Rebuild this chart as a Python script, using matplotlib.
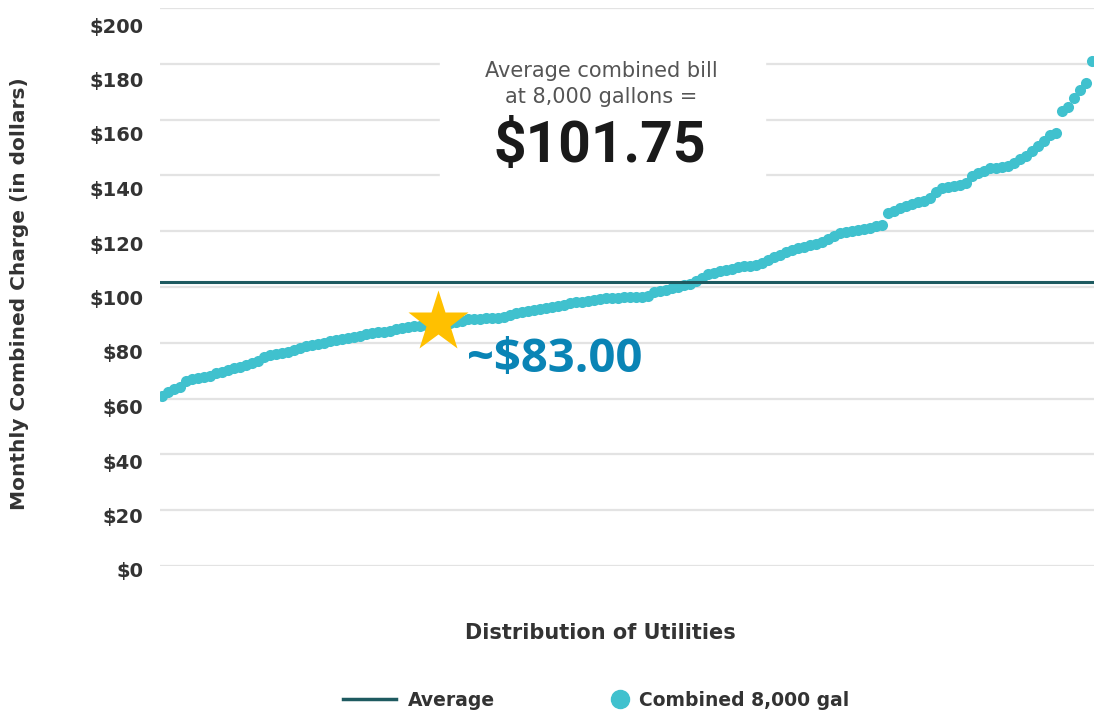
#distribution of combined monthly bills at 8,000 gallons
import matplotlib.pyplot as plt
from matplotlib.lines import Line2D
from matplotlib.patches import Rectangle
from matplotlib.transforms import ScaledTranslation

# combined charge per utility, sorted low to high
charges = [
    61.0, 62.3, 63.3, 64.2, 66.4, 67.2, 67.5, 67.7, 68.2, 69.0,
    69.5, 70.2, 70.8, 71.5, 72.0, 72.6, 73.4, 74.8, 75.5, 75.9,
    76.3, 76.8, 77.4, 78.1, 78.7, 79.3, 79.7, 80.1, 80.5, 80.9,
    81.3, 81.7, 82.2, 82.6, 83.1, 83.4, 83.7, 84.0, 84.4, 84.8,
    85.3, 85.7, 85.9, 86.1, 86.3, 86.6, 86.8, 87.0, 87.1, 87.3,
    87.9, 88.4, 88.6, 88.7, 88.8, 88.8, 88.9, 89.3, 90.0, 90.6,
    91.1, 91.4, 91.8, 92.1, 92.4, 92.8, 93.1, 93.6, 94.1, 94.5,
    94.8, 95.1, 95.4, 95.7, 95.9, 96.0, 96.2, 96.3, 96.4, 96.5,
    96.5, 96.8, 98.2, 98.7, 99.1, 99.5, 100.0, 100.6, 101.2, 102.0,
    103.2, 104.5, 105.1, 105.7, 106.1, 106.6, 107.0, 107.4, 107.7, 108.0,
    108.5, 109.5, 110.6, 111.6, 112.4, 113.2, 113.8, 114.4, 115.0, 115.5,
    116.2, 117.2, 118.3, 119.3, 119.7, 120.0, 120.3, 120.7, 121.2, 121.8,
    122.4, 126.4, 127.3, 128.3, 129.2, 129.8, 130.4, 131.0, 132.0, 134.0,
    135.6, 136.0, 136.3, 136.6, 137.1, 139.8, 140.8, 141.7, 142.5, 142.8,
    143.1, 143.5, 144.6, 145.9, 147.1, 148.6, 150.4, 152.3, 154.4, 155.2,
    163.0, 164.6, 167.9, 170.6, 173.0, 181.0,
]
average = 101.75
star_rank = 46
star_value = 87.5
star_label = "~$83.00"
y_ticks = [0, 20, 40, 60, 80, 100, 120, 140, 160, 180, 200]
y_tick_labels = ["$" + str(v) for v in y_ticks]

teal = "#40C1CE"
dark = "#1E5A60"
txt = "#333333"

fig = plt.figure(figsize=(10.94, 7.10), dpi=100)
ax = fig.add_axes([160 / 1094, 144 / 710, 934 / 1094, 558 / 710])

ranks = list(range(len(charges)))
ax.scatter(ranks, charges, s=64, color=teal, linewidths=0, zorder=3)
ax.axhline(average, color=dark, lw=2.2, zorder=4)
ax.plot(star_rank, star_value, marker="*", ms=46, color="#FFC000",
        mec="none", zorder=6, clip_on=False)

ax.set_xlim(-0.33, 155.33)
ax.set_ylim(0, 200)
ax.set_xticks([])
ax.set_yticks(y_ticks)
ax.set_yticklabels(y_tick_labels, fontsize=14, fontweight="bold", color=txt)
ax.tick_params(axis="y", length=0, pad=12)
ax.grid(axis="y", color="#e3e3e3", lw=1.6)
ax.set_axisbelow(True)
for s in ax.spines.values():
    s.set_visible(False)

# labels in the original sit a little under their gridlines
for v, lab in zip(y_ticks, ax.get_yticklabels()):
    off = (4 + 13 * v / 200) / 100
    lab.set_transform(lab.get_transform() + ScaledTranslation(0, -off, fig.dpi_scale_trans))

# white panel behind the average callout
ax.add_patch(Rectangle((0.30, 0.645), 0.348, 0.30, transform=ax.transAxes,
                       color="white", zorder=2))

fig.text(601 / 1094, 1 - 71 / 710, "Average combined bill", ha="center", va="center",
         fontsize=15, color="#555555")
fig.text(601 / 1094, 1 - 97 / 710, "at 8,000 gallons =", ha="center", va="center",
         fontsize=15, color="#555555")
fig.text(600 / 1094, 1 - 146 / 710, "$" + str(average), ha="center", va="center",
         fontsize=41, fontweight="bold", color="#1a1a1a", family="Roboto")
fig.text(555 / 1094, 1 - 360 / 710, star_label, ha="center", va="center",
         fontsize=34, fontweight="bold", color="#0A84B5", family="Open Sans")

fig.text(20 / 1094, 1 - 294 / 710, "Monthly Combined Charge (in dollars)", rotation=90,
         ha="center", va="center", fontsize=14.5, fontweight="bold", color=txt)
fig.text(600 / 1094, 1 - 633 / 710, "Distribution of Utilities", ha="center", va="center",
         fontsize=15, fontweight="bold", color=txt)

h1 = Line2D([], [], color=dark, lw=2.5)
h2 = Line2D([], [], color=teal, marker="o", ms=13, ls="none")
fig.legend([h1], ["Average"], loc="center left", bbox_to_anchor=(343 / 1094, 1 - 700 / 710),
           frameon=False, handlelength=2.8, handletextpad=0.65,
           borderpad=0, borderaxespad=0, prop={"weight": "bold", "size": 13.5})
fig.legend([h2], ["Combined 8,000 gal"], loc="center left",
           bbox_to_anchor=(611 / 1094, 1 - 700 / 710), frameon=False,
           handlelength=1.0, handletextpad=0.5, borderpad=0, borderaxespad=0,
           prop={"weight": "bold", "size": 13.5})
for leg in fig.legends:
    for t in leg.get_texts():
        t.set_color(txt)

fig.savefig("out.png", dpi=100)
